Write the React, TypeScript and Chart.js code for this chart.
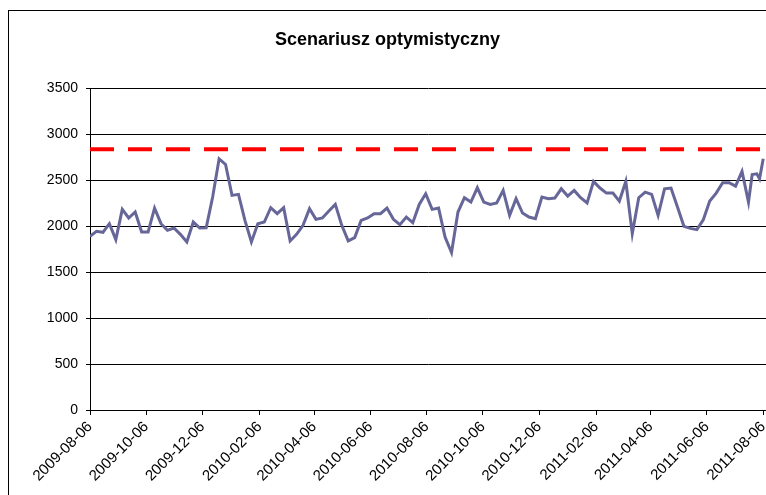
import React, { useEffect, useRef } from "react";
import { Chart, registerables } from "chart.js";

Chart.register(...registerables);

const TITLE = "Scenariusz optymistyczny";
const START_DATE = "2009-08-06";
const TICK_LABELS = [
  "2009-08-06", "2009-10-06", "2009-12-06", "2010-02-06", "2010-04-06",
  "2010-06-06", "2010-08-06", "2010-10-06", "2010-12-06", "2011-02-06",
  "2011-04-06", "2011-06-06", "2011-08-06",
];
const Y_TICKS = [0, 500, 1000, 1500, 2000, 2500, 3000, 3500];

// weekly observations starting 2009-08-06
const weeklyValues = [
  1890, 1946, 1935, 2029, 1855, 2185, 2091, 2156, 1938, 1938,
  2199, 2029, 1957, 1982, 1913, 1830, 2047, 1982, 1985, 2319,
  2735, 2674, 2337, 2348, 2065, 1830, 2029, 2047, 2203, 2138,
  2203, 1841, 1913, 2011, 2192, 2076, 2091, 2167, 2239, 2011,
  1841, 1877, 2065, 2091, 2138, 2138, 2199, 2076, 2018, 2101,
  2040, 2239, 2355, 2185, 2199, 1884, 1714, 2156, 2312, 2264,
  2420, 2264, 2239, 2254, 2391, 2120, 2301, 2145, 2101, 2083,
  2319, 2301, 2308, 2409, 2330, 2391, 2312, 2254, 2489, 2417,
  2362, 2362, 2275, 2489, 1920, 2312, 2373, 2348, 2120, 2409,
  2417, 2210, 2000, 1978, 1964, 2072, 2275, 2362, 2475, 2475,
  2438, 2598, 2264,
];
// last few irregular observations (day offsets from start)
const tailDays = [718, 723, 726, 730];
const tailValues = [2565, 2572, 2518, 2735];

const thresholdValue = 2840;

const dayOf = (s: string) => {
  const [y, m, d] = s.split("-").map(Number);
  const [y0, m0, d0] = START_DATE.split("-").map(Number);
  return Math.round((Date.UTC(y, m - 1, d) - Date.UTC(y0, m0 - 1, d0)) / 86400000);
};

export default function App() {
  const ref = useRef<HTMLCanvasElement | null>(null);

  useEffect(() => {
    if (!ref.current) return;
    Chart.defaults.font.family = 'Arial, "Liberation Sans", sans-serif';
    const tickDays = TICK_LABELS.map(dayOf);
    const labelByDay: Record<number, string> = {};
    TICK_LABELS.forEach((l, i) => (labelByDay[tickDays[i]] = l));

    const seriesPts = [
      ...weeklyValues.map((v, i) => ({ x: i * 7, y: v })),
      ...tailDays.map((d, i) => ({ x: d, y: tailValues[i] })),
    ];
    const xMax = 733;

    const chart = new Chart(ref.current, {
      type: "line",
      data: {
        datasets: [
          {
            data: seriesPts,
            borderColor: "#666699",
            borderWidth: 3,
            pointRadius: 0,
            tension: 0,
            fill: false,
          },
          {
            data: [
              { x: 0, y: thresholdValue },
              { x: xMax, y: thresholdValue },
            ],
            borderColor: "#ff0000",
            borderWidth: 4,
            borderDash: [24, 14],
            pointRadius: 0,
            fill: false,
          },
        ],
      },
      options: {
        responsive: false,
        animation: false,
        layout: { padding: { left: 0, right: 0, top: 0, bottom: 0 } },
        plugins: {
          legend: { display: false },
          tooltip: { enabled: false },
          title: {
            display: true,
            text: TITLE,
            color: "#000",
            font: { size: 18, weight: "bold" },
            padding: { top: 18, bottom: 38 },
          },
        },
        scales: {
          x: {
            type: "linear",
            min: 0,
            max: xMax,
            afterBuildTicks: (scale: any) => {
              scale.ticks = tickDays.map((v) => ({ value: v }));
            },
            afterFit: (scale: any) => {
              scale.height = 85;
              scale.paddingLeft = 0;
              scale.paddingRight = 0;
            },
            ticks: {
              autoSkip: false,
              maxRotation: 45,
              minRotation: 45,
              color: "#000",
              font: { size: 15 },
              padding: 3,
              callback: (v: any) => labelByDay[v] ?? "",
            },
            grid: {
              display: true,
              drawOnChartArea: false,
              drawTicks: true,
              tickLength: 5,
              color: "#000",
            },
            border: { display: true, color: "#000", width: 1 },
          },
          y: {
            min: 0,
            max: 3500,
            afterBuildTicks: (scale: any) => {
              scale.ticks = Y_TICKS.map((v) => ({ value: v }));
            },
            afterFit: (scale: any) => {
              scale.width = 81;
            },
            ticks: {
              color: "#000",
              font: { size: 14 },
              padding: 8,
              callback: (v: any) => String(v),
            },
            grid: {
              color: "#000",
              tickLength: 4,
            },
            border: { display: true, color: "#000", width: 1 },
          },
        },
      },
    });
    return () => chart.destroy();
  }, []);

  return (
    <div
      style={{
        position: "fixed",
        left: 8,
        top: 10,
        width: 758,
        height: 485,
        borderTop: "1px solid #000",
        borderLeft: "1px solid #000",
        background: "#fff",
      }}
    >
      <canvas ref={ref} width={757} height={484} style={{ display: "block" }} />
    </div>
  );
}
